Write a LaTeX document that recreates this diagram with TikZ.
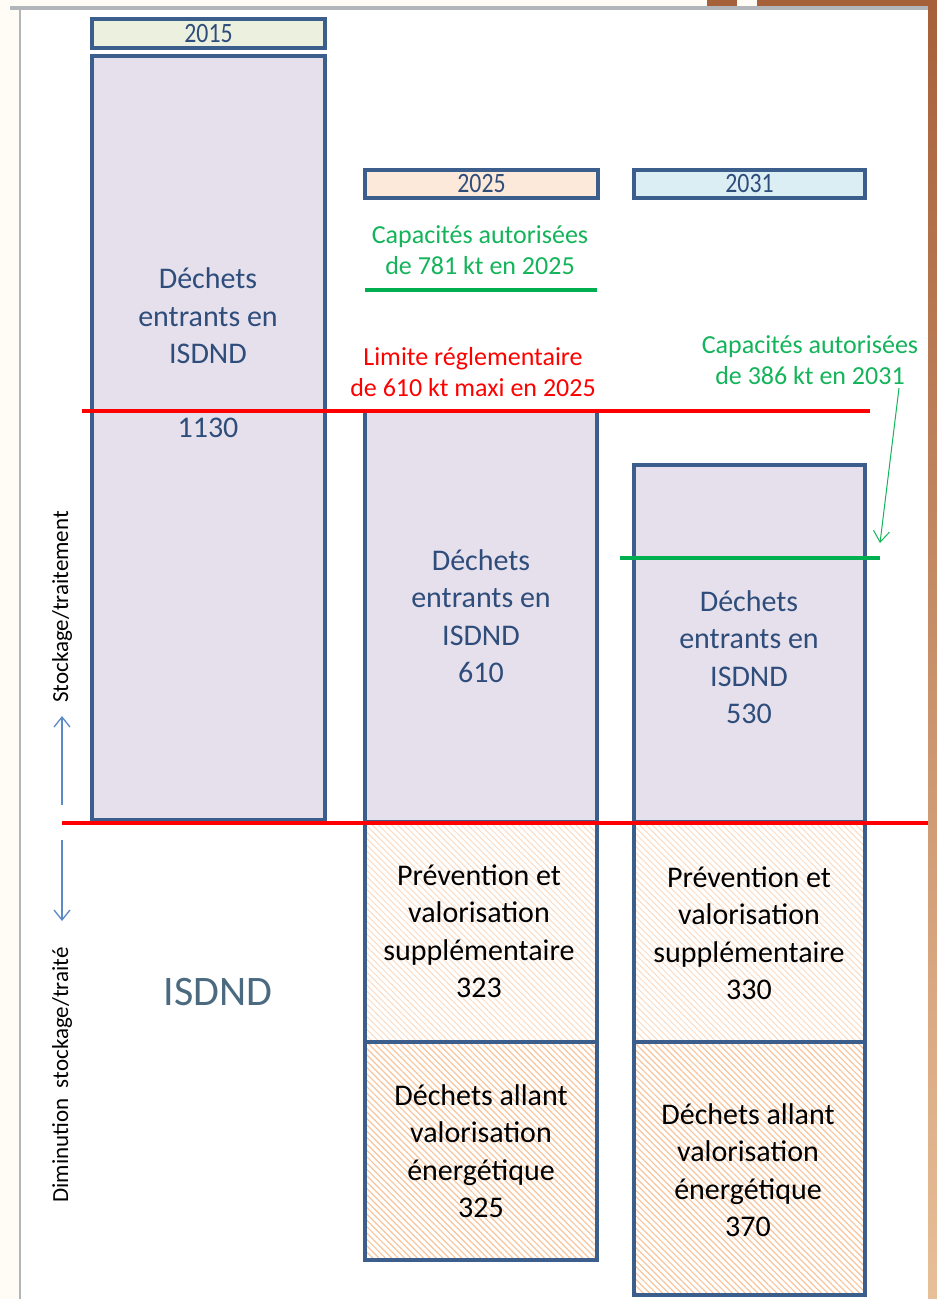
\documentclass[tikz,border=0pt]{standalone}
\usepackage{fontspec}
\setmainfont{Carlito}
\usetikzlibrary{positioning,patterns.meta,arrows.meta}

\definecolor{boxblue}{HTML}{3B5E8C}
\definecolor{txtblue}{HTML}{2F4D7B}
\definecolor{lav}{HTML}{E5E0EC}
\definecolor{yr15}{HTML}{EBF1DE}
\definecolor{yr25}{HTML}{FDE9D9}
\definecolor{yr31}{HTML}{DBEEF4}
\definecolor{capgreen}{HTML}{00B050}
\definecolor{capgreentxt}{HTML}{14B45A}
\definecolor{hatchlight}{HTML}{FBDCC4}
\definecolor{hatchdark}{HTML}{F8C49C}
\definecolor{isdndgray}{HTML}{4B6A80}
\definecolor{sideblue}{HTML}{5B8AC6}
\definecolor{cream}{HTML}{FEFCF5}
\definecolor{framegray}{HTML}{B2B6BA}
\definecolor{brownA}{HTML}{A6603A}
\definecolor{brownB}{HTML}{E7BF98}

\tikzset{
 bar/.style={draw=boxblue, line width=3.5pt, anchor=north west, inner sep=0pt, outer sep=0pt},
 hatchlow/.style={pattern={Lines[angle=-45,distance=4.5pt,line width=1pt]}, pattern color=hatchlight},
 hatchhigh/.style={pattern={Lines[angle=-45,distance=4.5pt,line width=1.2pt]}, pattern color=hatchdark},
 yeartxt/.style={text=txtblue, font=\fontsize{28}{30}\selectfont, xscale=0.85, inner sep=0pt},
 intxt/.style={align=center, inner sep=0pt, font=\fontsize{30}{37.5}\selectfont},
 notetxt/.style={align=center, inner sep=0pt, font=\fontsize{26}{31}\selectfont},
 sidetxt/.style={inner sep=0pt, rotate=90, font=\fontsize{23}{26}\selectfont},
 limline/.style={red, line width=4pt},
 capline/.style={capgreen, line width=4pt},
 sidearrow/.style={sideblue, line width=1.3pt, -{Straight Barb[length=10pt,width=16pt]}},
}

\begin{document}
\begin{tikzpicture}[x=1pt,y=-1pt]
 \useasboundingbox (0,0) rectangle (937,1299);

 %Frame
 \fill[cream] (0,0) rectangle (937,1299);
 \fill[white] (20,8) rectangle (928,1299);
 \fill[brownA] (707,0) rectangle (737,8);
 \fill[brownA] (757,0) rectangle (937,8);
 \shade[top color=brownA, bottom color=brownB] (928,0) rectangle (937,1299);
 \draw[framegray, line width=4pt] (10,8) -- (928,8);
 \draw[framegray, line width=2pt] (20,8) -- (20,1299);

 %Years
 \node (year15) [bar, fill=yr15, minimum width=233pt, minimum height=29pt] at (92,19) {};
 \node (year25) [bar, fill=yr25, minimum width=233pt, minimum height=28pt] at (365,170) {};
 \node (year31) [bar, fill=yr31, minimum width=231pt, minimum height=28pt] at (634,170) {};
 \node [yeartxt] at (year15.center) {2015};
 \node [yeartxt] at (year25.center) {2025};
 \node [yeartxt] at (year31.center) {2031};

 %Bars
 \node (dech15) [bar, fill=lav, minimum width=233pt, minimum height=764pt] at (92,56) {};
 \node (dech25) [bar, fill=lav, minimum width=232pt, minimum height=411pt] at (365,411) {};
 \node (dech31) [bar, fill=lav, minimum width=231pt, minimum height=357pt] at (634,465) {};
 \node (prev25) [bar, hatchlow, minimum width=232pt, minimum height=220pt] at (365,822) {};
 \node (prev31) [bar, hatchlow, minimum width=231pt, minimum height=220pt] at (634,822) {};
 \node (valo25) [bar, hatchhigh, minimum width=232pt, minimum height=218pt] at (365,1042) {};
 \node (valo31) [bar, hatchhigh, minimum width=231pt, minimum height=253pt] at (634,1042) {};

 %Texts of bars
 \node (dech15txt) [intxt, text=txtblue] at (208,316) {Déchets\\entrants en\\ISDND};
 \node (dech15val) [intxt, text=txtblue] at (208,428) {1130};
 \node (dech25txt) [intxt, text=txtblue] at (481,616) {Déchets\\entrants en\\ISDND\\610};
 \node (dech31txt) [intxt, text=txtblue] at (749,657) {Déchets\\entrants en\\ISDND\\530};
 \node (prev25txt) [intxt] at (479,931) {Prévention et\\valorisation\\supplémentaire\\323};
 \node (prev31txt) [intxt] at (749,933) {Prévention et\\valorisation\\supplémentaire\\330};
 \node (valo25txt) [intxt] at (481,1151) {Déchets allant\\valorisation\\énergétique\\325};
 \node (valo31txt) [intxt] at (748,1170) {Déchets allant\\valorisation\\énergétique\\370};
 \node (isdnd) [inner sep=0pt, text=isdndgray, font=\fontsize{42}{46}\selectfont] at (218,992) {ISDND};

 %Limits
 \node (cap25) [notetxt, text=capgreentxt] at (480,250) {Capacités autorisées\\de 781 kt en 2025};
 \node (lim25) [notetxt, text=red] at (473,372) {Limite réglementaire\\de 610 kt maxi en 2025};
 \node (cap31) [notetxt, text=capgreentxt] at (810,360) {Capacités autorisées\\de 386 kt en 2031};
 \draw[capline] (365,290) -- (597,290);
 \draw[limline] (82,411) -- (870,411);
 \draw[capline] (620,558) -- (880,558);
 \draw[limline] (62,823) -- (928,823);

 \coordinate (cap31foot) at (899,388);
 \coordinate (cap31tip) at (880,543);
 \draw[capgreentxt, line width=1pt, -{Straight Barb[length=11pt,width=16pt]}] (cap31foot) -- (cap31tip);

 %Side
 \coordinate (upStart) at (62,805);
 \coordinate (upEnd) at (62,716);
 \coordinate (downStart) at (62,840);
 \coordinate (downEnd) at (62,921);
 \draw[sidearrow] (upStart) -- (upEnd);
 \draw[sidearrow] (downStart) -- (downEnd);
 \node (stock) [sidetxt] at (62,607) {Stockage/traitement};
 \node (dimin) [sidetxt] at (62,1075) {Diminution\ \ stockage/traité};
\end{tikzpicture}
\end{document}
